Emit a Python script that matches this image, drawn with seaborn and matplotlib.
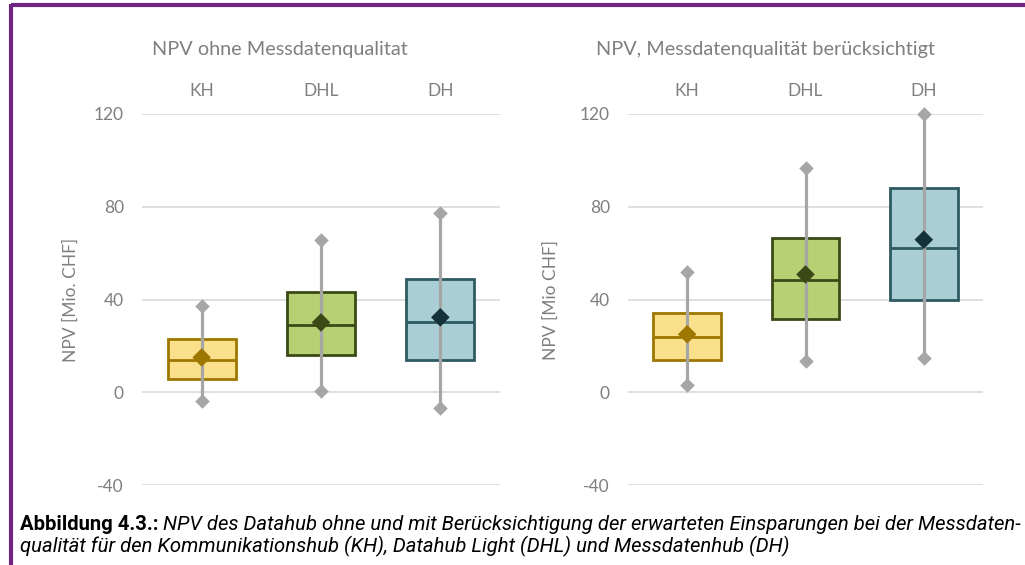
import numpy as np
import pandas as pd
import seaborn as sns
import matplotlib.pyplot as plt
from matplotlib.lines import Line2D

# data (Mio. CHF)
categories = ["KH", "DHL", "DH"]

left_min = [-3.8, 0.5, -6.8]
left_q1 = [5.6, 15.9, 13.8]
left_median = [13.8, 28.8, 30.5]
left_q3 = [22.8, 43.4, 49.0]
left_max = [37.3, 65.5, 77.4]
left_mean = [15.0, 30.1, 32.3]

right_min = [3.0, 13.3, 14.6]
right_q1 = [13.8, 31.8, 40.0]
right_median = [23.7, 48.2, 62.4]
right_q3 = [34.0, 66.4, 88.3]
right_max = [52.0, 96.8, 120.0]
right_mean = [25.0, 50.8, 65.8]

yticks = [-40, 0, 40, 80, 120]

fill_colors = ["#FBE08C", "#B7D074", "#A9CFD5"]
edge_colors = ["#9E7700", "#3A4A17", "#2E5A61"]
mean_colors = ["#9E7700", "#3A4A17", "#15323A"]
whisker_grey = "#A6A6A6"
text_grey = "#7F7F7F"

sns.set_style("white")
plt.rcParams["font.family"] = ["Lato", "DejaVu Sans"]
plt.rcParams["axes.unicode_minus"] = False

fig = plt.figure(figsize=(10.25, 5.65), dpi=100)


def draw_panel(ax, mins, q1, med, q3, maxs, means, ylabel, label_x):
    for i, cat in enumerate(categories):
        vals = [mins[i], q1[i], med[i], q3[i], maxs[i]]
        df = pd.DataFrame({"cat": [cat] * 5, "val": vals})
        sns.boxplot(data=df, x="cat", y="val", order=categories, ax=ax,
                    color=fill_colors[i], linecolor=edge_colors[i],
                    linewidth=2.0, width=0.57, whis=(0, 100),
                    showcaps=False, showfliers=False, saturation=1,
                    whiskerprops={"visible": False},
                    boxprops={"zorder": 2}, medianprops={"zorder": 2.5})
    pos = np.arange(len(categories))
    ax.vlines(pos, mins, maxs, color=whisker_grey, lw=2.3, zorder=3)
    ax.scatter(pos, mins, marker="D", s=55, color=whisker_grey, lw=0,
               zorder=3.5, clip_on=False)
    ax.scatter(pos, maxs, marker="D", s=55, color=whisker_grey, lw=0,
               zorder=3.5, clip_on=False)
    ax.scatter(pos, means, marker="D", s=90, color=mean_colors, lw=0,
               zorder=4, clip_on=False)

    ax.set_xlim(-0.5, len(categories) - 0.5)
    ax.set_ylim(-40, 120)
    ax.set_yticks(yticks)
    ax.yaxis.grid(True, color="#D9D9D9", lw=1.2)
    ax.set_axisbelow(True)
    ax.xaxis.tick_top()
    ax.set_xticks(pos, categories)
    ax.set_xlabel("")
    ax.set_ylabel(ylabel, fontsize=12.5, color=text_grey)
    ax.yaxis.set_label_coords(label_x, 0.5)
    ax.tick_params(axis="x", length=0, pad=11, labelsize=12.5, labelcolor=text_grey)
    ax.tick_params(axis="y", length=0, pad=13, labelsize=12.5, labelcolor=text_grey)
    sns.despine(ax=ax, left=True, bottom=True)


ax1 = fig.add_axes([142 / 1025, 1 - 485 / 565, 358 / 1025, 371 / 565])
ax2 = fig.add_axes([628 / 1025, 1 - 485 / 565, 355 / 1025, 371 / 565])

draw_panel(ax1, left_min, left_q1, left_median, left_q3, left_max, left_mean,
           "NPV [Mio. CHF]", -0.176)
draw_panel(ax2, right_min, right_q1, right_median, right_q3, right_max, right_mean,
           "NPV [Mio CHF]", -0.194)

fig.text(280 / 1025, 1 - 50 / 565, "NPV ohne Messdatenqualitat", ha="center",
         va="center", fontsize=14.3, color=text_grey)
fig.text(765 / 1025, 1 - 50 / 565, "NPV, Messdatenqualität berücksichtigt",
         ha="center", va="center", fontsize=14.3, color=text_grey)

# purple frame (top and left)
frame = "#702580"
fig.add_artist(Line2D([11 / 1025, 1.0], [1 - 5 / 565, 1 - 5 / 565], color=frame,
                      lw=3, transform=fig.transFigure, solid_capstyle="butt"))
fig.add_artist(Line2D([11 / 1025, 11 / 1025], [0.0, 1 - 3.5 / 565], color=frame,
                      lw=3, transform=fig.transFigure, solid_capstyle="butt"))

# caption
cap_font = ["Roboto", "DejaVu Sans"]
cap_size = 14.6
t1 = fig.text(20 / 1025, 1 - 530 / 565, "Abbildung 4.3.:", fontsize=cap_size,
              fontweight="bold", family=cap_font, va="baseline", color="black")
ax1.annotate(" NPV des Datahub ohne und mit Berücksichtigung der erwarteten "
             "Einsparungen bei der Messdaten-",
             xy=(1, 0), xycoords=t1, va="bottom", ha="left", fontsize=cap_size,
             style="italic", family=cap_font, color="black", annotation_clip=False)
fig.text(20 / 1025, 1 - 552 / 565,
         "qualität für den Kommunikationshub (KH), Datahub Light (DHL) und "
         "Messdatenhub (DH)", fontsize=cap_size, style="italic", family=cap_font,
         va="baseline", color="black")

fig.savefig("out.png", dpi=100)
